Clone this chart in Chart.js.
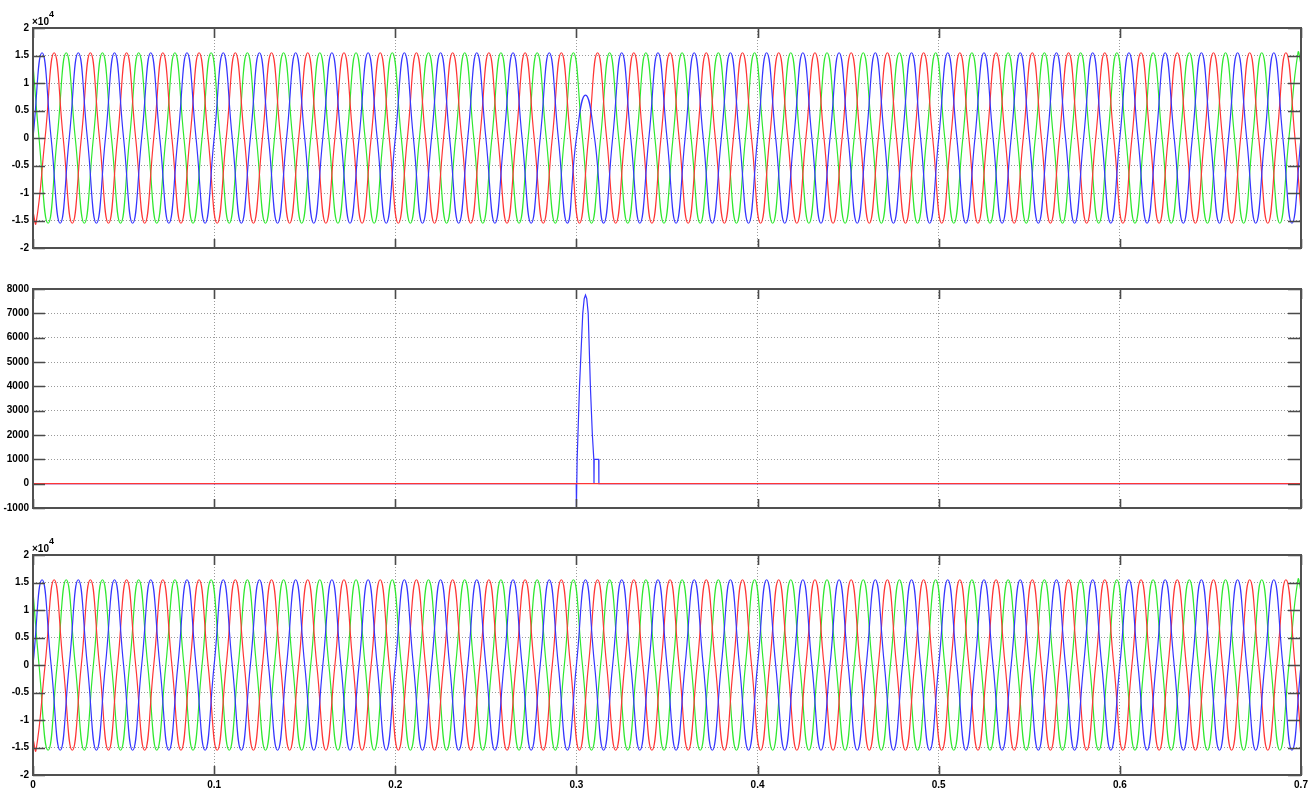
<!DOCTYPE html>
<html>
<head>
<meta charset="utf-8">
<title>Scope</title>
<script src="https://cdn.jsdelivr.net/npm/chart.js@4.4.1/dist/chart.umd.min.js"></script>
<style>
  html,body{margin:0;padding:0;background:#fff;}
  body{width:1315px;height:790px;position:relative;overflow:hidden;}
  canvas{position:absolute;left:0;}
</style>
</head>
<body>
<canvas id="c1" width="1315" height="260" style="top:0"></canvas>
<canvas id="c2" width="1315" height="250" style="top:270px"></canvas>
<canvas id="c3" width="1315" height="260" style="top:530px"></canvas>
<script>
// ---------- axes (time in ms) ----------
const xTickValues = [0,100,200,300,400,500,600,700];
const xTickLabels = ['0','0.1','0.2','0.3','0.4','0.5','0.6','0.7'];
const phaseTickValues = [-20000,-15000,-10000,-5000,0,5000,10000,15000,20000];
const phaseTickLabels = ['-2','-1.5','-1','-0.5','0','0.5','1','1.5','2'];
const midTickValues = [-1000,0,1000,2000,3000,4000,5000,6000,7000,8000];
const midTickLabels = ['-1000','0','1000','2000','3000','4000','5000','6000','7000','8000'];

// ---------- phase waves: zero crossings and peaks ----------
const blueT = [
  0,5,10,15,20,25,30,35,40,45,50,55,60,65,70,75,80,85,90,95,
  100,105,110,115,120,125,130,135,140,145,150,155,160,165,170,175,180,185,190,195,
  200,205,210,215,220,225,230,235,240,245,250,255,260,265,270,275,280,285,290,295,
  300,305,310,315,320,325,330,335,340,345,350,355,360,365,370,375,380,385,390,395,
  400,405,410,415,420,425,430,435,440,445,450,455,460,465,470,475,480,485,490,495,
  500,505,510,515,520,525,530,535,540,545,550,555,560,565,570,575,580,585,590,595,
  600,605,610,615,620,625,630,635,640,645,650,655,660,665,670,675,680,685,690,695,
  700];
const blueV = [
  0,15500,0,-15500,0,15500,0,-15500,0,15500,0,-15500,0,15500,0,-15500,0,15500,0,-15500,
  0,15500,0,-15500,0,15500,0,-15500,0,15500,0,-15500,0,15500,0,-15500,0,15500,0,-15500,
  0,15500,0,-15500,0,15500,0,-15500,0,15500,0,-15500,0,15500,0,-15500,0,15500,0,-15500,
  0,15500,0,-15500,0,15500,0,-15500,0,15500,0,-15500,0,15500,0,-15500,0,15500,0,-15500,
  0,15500,0,-15500,0,15500,0,-15500,0,15500,0,-15500,0,15500,0,-15500,0,15500,0,-15500,
  0,15500,0,-15500,0,15500,0,-15500,0,15500,0,-15500,0,15500,0,-15500,0,15500,0,-15500,
  0,15500,0,-15500,0,15500,0,-15500,0,15500,0,-15500,0,15500,0,-15500,0,15500,0,-15500,
  0];
const redT = [
  0,
  1.67,6.67,11.67,16.67,21.67,26.67,31.67,36.67,41.67,46.67,51.67,56.67,61.67,66.67,71.67,76.67,81.67,86.67,91.67,96.67,
  101.67,106.67,111.67,116.67,121.67,126.67,131.67,136.67,141.67,146.67,151.67,156.67,161.67,166.67,171.67,176.67,181.67,186.67,191.67,196.67,
  201.67,206.67,211.67,216.67,221.67,226.67,231.67,236.67,241.67,246.67,251.67,256.67,261.67,266.67,271.67,276.67,281.67,286.67,291.67,296.67,
  301.67,306.67,311.67,316.67,321.67,326.67,331.67,336.67,341.67,346.67,351.67,356.67,361.67,366.67,371.67,376.67,381.67,386.67,391.67,396.67,
  401.67,406.67,411.67,416.67,421.67,426.67,431.67,436.67,441.67,446.67,451.67,456.67,461.67,466.67,471.67,476.67,481.67,486.67,491.67,496.67,
  501.67,506.67,511.67,516.67,521.67,526.67,531.67,536.67,541.67,546.67,551.67,556.67,561.67,566.67,571.67,576.67,581.67,586.67,591.67,596.67,
  601.67,606.67,611.67,616.67,621.67,626.67,631.67,636.67,641.67,646.67,651.67,656.67,661.67,666.67,671.67,676.67,681.67,686.67,691.67,696.67,
  700];
const redV = [
  -13400,
  -15500,0,15500,0,-15500,0,15500,0,-15500,0,15500,0,-15500,0,15500,0,-15500,0,15500,0,
  -15500,0,15500,0,-15500,0,15500,0,-15500,0,15500,0,-15500,0,15500,0,-15500,0,15500,0,
  -15500,0,15500,0,-15500,0,15500,0,-15500,0,15500,0,-15500,0,15500,0,-15500,0,15500,0,
  -15500,0,15500,0,-15500,0,15500,0,-15500,0,15500,0,-15500,0,15500,0,-15500,0,15500,0,
  -15500,0,15500,0,-15500,0,15500,0,-15500,0,15500,0,-15500,0,15500,0,-15500,0,15500,0,
  -15500,0,15500,0,-15500,0,15500,0,-15500,0,15500,0,-15500,0,15500,0,-15500,0,15500,0,
  -15500,0,15500,0,-15500,0,15500,0,-15500,0,15500,0,-15500,0,15500,0,-15500,0,15500,0,
  -13400];
const greenT = [
  0,
  3.33,8.33,13.33,18.33,23.33,28.33,33.33,38.33,43.33,48.33,53.33,58.33,63.33,68.33,73.33,78.33,83.33,88.33,93.33,98.33,
  103.33,108.33,113.33,118.33,123.33,128.33,133.33,138.33,143.33,148.33,153.33,158.33,163.33,168.33,173.33,178.33,183.33,188.33,193.33,198.33,
  203.33,208.33,213.33,218.33,223.33,228.33,233.33,238.33,243.33,248.33,253.33,258.33,263.33,268.33,273.33,278.33,283.33,288.33,293.33,298.33,
  303.33,308.33,313.33,318.33,323.33,328.33,333.33,338.33,343.33,348.33,353.33,358.33,363.33,368.33,373.33,378.33,383.33,388.33,393.33,398.33,
  403.33,408.33,413.33,418.33,423.33,428.33,433.33,438.33,443.33,448.33,453.33,458.33,463.33,468.33,473.33,478.33,483.33,488.33,493.33,498.33,
  503.33,508.33,513.33,518.33,523.33,528.33,533.33,538.33,543.33,548.33,553.33,558.33,563.33,568.33,573.33,578.33,583.33,588.33,593.33,598.33,
  603.33,608.33,613.33,618.33,623.33,628.33,633.33,638.33,643.33,648.33,653.33,658.33,663.33,668.33,673.33,678.33,683.33,688.33,693.33,698.33,
  700];
const greenV = [
  13400,
  0,-15500,0,15500,0,-15500,0,15500,0,-15500,0,15500,0,-15500,0,15500,0,-15500,0,15500,
  0,-15500,0,15500,0,-15500,0,15500,0,-15500,0,15500,0,-15500,0,15500,0,-15500,0,15500,
  0,-15500,0,15500,0,-15500,0,15500,0,-15500,0,15500,0,-15500,0,15500,0,-15500,0,15500,
  0,-15500,0,15500,0,-15500,0,15500,0,-15500,0,15500,0,-15500,0,15500,0,-15500,0,15500,
  0,-15500,0,15500,0,-15500,0,15500,0,-15500,0,15500,0,-15500,0,15500,0,-15500,0,15500,
  0,-15500,0,15500,0,-15500,0,15500,0,-15500,0,15500,0,-15500,0,15500,0,-15500,0,15500,
  0,-15500,0,15500,0,-15500,0,15500,0,-15500,0,15500,0,-15500,0,15500,0,-15500,0,15500,
  13400];

// fault: in the upper scope the blue half-cycle at 0.305 s only reaches ~7800
const faultT = 305, faultPeak = 7800;
const topBlueV = blueV.map((v, i) => blueT[i] === faultT ? faultPeak : v);

// middle scope: fault current pulse (blue) and zero reference (red)
const midBlueT = [0,299.9,300,300.4,301.7,303.5,304.3,305,305.7,306.5,307.7,308.8,309.6,309.7,309.8,312.3,312.4,700];
const midBlueV = [0,0,-950,1000,4000,7000,7600,7750,7600,7000,4000,2000,1000,0,1000,1000,0,0];
const midRedT = [0,700];
const midRedV = [0,0];

// ---------- helpers ----------
const BLUE = '#3535ff', RED = '#ff3535', GREEN = '#2fe82f';
const tickFont = { family: "'Liberation Sans Narrow','Liberation Sans',Arial,sans-serif", size: 10, weight: 'bold' };
const pts = (ts, vs) => ts.map((t, i) => ({ x: t, y: vs[i] }));
const wave = (ts, vs, color, tension) => ({
  data: pts(ts, vs), borderColor: color, borderWidth: 1.2,
  tension: tension, fill: false, pointRadius: 0
});

// MATLAB-scope look: frame, inner tick marks, x10^4 multiplier
const scopeFrame = {
  id: 'scopeFrame',
  afterDatasetsDraw(chart, args, opts){
    const { ctx, chartArea: a, scales: { x, y } } = chart;
    ctx.save();
    ctx.strokeStyle = '#4a4a4a'; ctx.lineWidth = 1.6;
    ctx.beginPath();
    y.ticks.forEach(t => {
      const py = Math.round(y.getPixelForValue(t.value)) + 0.5;
      ctx.moveTo(a.left, py); ctx.lineTo(a.left + 12, py);
      ctx.moveTo(a.right - 13, py); ctx.lineTo(a.right, py);
    });
    x.ticks.forEach(t => {
      const px = Math.round(x.getPixelForValue(t.value)) + 0.5;
      ctx.moveTo(px, a.top); ctx.lineTo(px, a.top + 10);
      ctx.moveTo(px, a.bottom - 9); ctx.lineTo(px, a.bottom);
    });
    ctx.stroke();
    ctx.strokeStyle = '#505050'; ctx.lineWidth = 2;
    ctx.strokeRect(a.left, a.top, a.right - a.left, a.bottom - a.top);
    if (opts.exponent){
      ctx.fillStyle = '#000';
      ctx.textBaseline = 'alphabetic'; ctx.textAlign = 'left';
      ctx.font = "bold 10px 'Liberation Sans Narrow','Liberation Sans',Arial,sans-serif";
      ctx.fillText('\u00d710', a.left - 1, a.top - 3);
      ctx.font = "bold 9px 'Liberation Sans Narrow','Liberation Sans',Arial,sans-serif";
      ctx.fillText(opts.exponent, a.left + 16, a.top - 11);
    }
    ctx.restore();
  }
};

function scope(id, datasets, yVals, yLabels, o){
  return new Chart(document.getElementById(id), {
    type: 'line',
    data: { datasets },
    options: {
      responsive: false, animation: false, events: [],
      layout: { padding: { top: o.padTop, right: 14, left: 0, bottom: 0 } },
      plugins: { legend: { display: false }, tooltip: { enabled: false }, scopeFrame: { exponent: o.exponent } },
      scales: {
        x: {
          type: 'linear', min: 0, max: 700,
          afterBuildTicks: s => { s.ticks = xTickValues.map(v => ({ value: v })); },
          afterFit: s => { s.height = o.xHeight; },
          ticks: { display: o.xLabels, autoSkip: false, maxRotation: 0, padding: 4, font: tickFont, color: '#000',
                   callback: (v, i) => xTickLabels[i] },
          grid: { color: '#9a9a9a', lineWidth: 1, drawTicks: false },
          border: { display: false, dash: [1, 2] }
        },
        y: {
          type: 'linear', min: yVals[0], max: yVals[yVals.length - 1],
          afterBuildTicks: s => { s.ticks = yVals.map(v => ({ value: v })); },
          afterFit: s => { s.width = 33; },
          ticks: { padding: 4, font: tickFont, color: '#000', callback: (v, i) => yLabels[i] },
          grid: { color: '#9a9a9a', lineWidth: 1, drawTicks: false },
          border: { display: false, dash: [1, 2] }
        }
      }
    },
    plugins: [scopeFrame]
  });
}

// ---------- charts ----------
scope('c1', [
  wave(blueT, topBlueV, BLUE, 0.5),
  wave(redT, redV, RED, 0.5),
  wave(greenT, greenV, GREEN, 0.5)
], phaseTickValues, phaseTickLabels, { padTop: 28, xHeight: 12, xLabels: false, exponent: '4' });

scope('c2', [
  wave(midRedT, midRedV, RED, 0),
  wave(midBlueT, midBlueV, BLUE, 0)
], midTickValues, midTickLabels, { padTop: 19, xHeight: 12, xLabels: false, exponent: false });

scope('c3', [
  wave(blueT, blueV, BLUE, 0.5),
  wave(redT, redV, RED, 0.5),
  wave(greenT, greenV, GREEN, 0.5)
], phaseTickValues, phaseTickLabels, { padTop: 25, xHeight: 15, xLabels: true, exponent: '4' });
</script>
</body>
</html>
